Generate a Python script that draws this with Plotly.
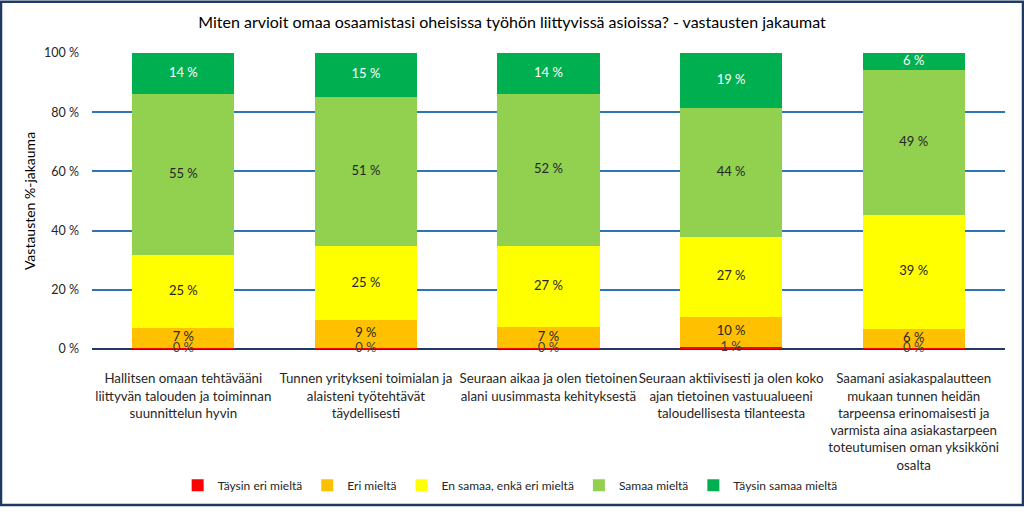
import plotly.graph_objects as go

categories = [
    "Hallitsen omaan tehtävääni<br>liittyvän talouden ja toiminnan<br>suunnittelun hyvin",
    "Tunnen yritykseni toimialan ja<br>alaisteni työtehtävät<br>täydellisesti",
    "Seuraan aikaa ja olen tietoinen<br>alani uusimmasta kehityksestä",
    "Seuraan aktiivisesti ja olen koko<br>ajan tietoinen vastuualueeni<br>taloudellisesta tilanteesta",
    "Saamani asiakaspalautteen<br>mukaan tunnen heidän<br>tarpeensa erinomaisesti ja<br>varmista aina asiakastarpeen<br>toteutumisen oman yksikköni<br>osalta",
]

taysin_eri = [0.4, 0.4, 0.3, 0.8, 0.3]
eri = [6.6, 9.3, 7.0, 10.0, 6.4]
en_samaa = [24.6, 25.0, 27.4, 27.0, 38.6]
samaa = [54.6, 50.6, 51.6, 43.6, 48.8]
taysin_samaa = [13.8, 14.7, 13.7, 18.6, 5.9]

series_names = ["Täysin eri mieltä", "Eri mieltä", "En samaa, enkä eri mieltä",
                "Samaa mieltä", "Täysin samaa mieltä"]
series_values = [taysin_eri, eri, en_samaa, samaa, taysin_samaa]
series_colors = ["#FF0000", "#FFC000", "#FFFF00", "#92D050", "#00B050"]
label_colors = ["#404040", "#262626", "#262626", "#262626", "#FFFFFF"]

y_ticks = [0, 20, 40, 60, 80, 100]
y_ticklabels = ["0 %", "20 %", "40 %", "60 %", "80 %", "100 %"]

FONT = "Lato, 'Open Sans', sans-serif"

fig = go.Figure()
base = [0.0] * len(categories)
label_traces = []
for name, vals, col, lcol in zip(series_names, series_values, series_colors, label_colors):
    fig.add_trace(go.Bar(
        x=categories, y=vals, name=name,
        marker=dict(color=col, line=dict(width=0)),
        hoverinfo="skip",
    ))
    mids = [b + v / 2 for b, v in zip(base, vals)]
    label_traces.append(go.Scatter(
        x=categories, y=mids, mode="text",
        text=[f"{v:.0f} %" for v in vals],
        textposition="middle center",
        textfont=dict(color=lcol, size=13, family=FONT),
        showlegend=False, hoverinfo="skip", cliponaxis=False,
    ))
    base = [b + v for b, v in zip(base, vals)]

for t in label_traces:
    fig.add_trace(t)

fig.update_layout(
    barmode="stack",
    bargap=0.44,
    width=1024, height=512,
    margin=dict(l=92, r=19, t=53, b=159),
    paper_bgcolor="white",
    plot_bgcolor="white",
    font=dict(family=FONT, color="#262626", size=12),
    title=dict(
        text="Miten arvioit omaa osaamistasi oheisissa työhön liittyvissä asioissa? - vastausten jakaumat",
        x=0.5, xanchor="center", y=0.957, yanchor="middle",
        font=dict(size=16, family=FONT, color="#000000"),
    ),
    legend=dict(
        orientation="h", x=0.458, xanchor="center", y=-0.46, yanchor="middle",
        font=dict(size=12, family=FONT, color="#262626"),
        traceorder="normal",
    ),
    xaxis=dict(
        tickfont=dict(size=13.3, family=FONT, color="#262626"),
        showgrid=False, ticks="", showline=False,
        ticklabelstandoff=20, tickangle=0, automargin=False,
    ),
    yaxis=dict(
        range=[0, 100], tickvals=y_ticks, ticktext=y_ticklabels,
        tickfont=dict(size=12.5, family=FONT, color="#262626"),
        showgrid=True, gridcolor="#2E75B6", gridwidth=1.5,
        zeroline=True, zerolinecolor="#1F3864", zerolinewidth=1.5,
        title=dict(text="Vastausten %-jakauma", font=dict(size=14, family=FONT, color="#000000"), standoff=5),
        ticks="", ticklabelstandoff=12, automargin=False,
    ),
    shapes=[dict(
        type="rect", xref="paper", yref="paper",
        x0=-91/913, x1=1 + 18/913,
        y0=-158/300, y1=1 + 52/300,
        line=dict(color="#1F3864", width=2.5), fillcolor="rgba(0,0,0,0)", layer="above",
    )],
)

fig.write_html("out.html", config={"displayModeBar": False},
               post_script="document.body.style.margin='0';document.body.style.padding='0';document.body.style.overflow='hidden';")
